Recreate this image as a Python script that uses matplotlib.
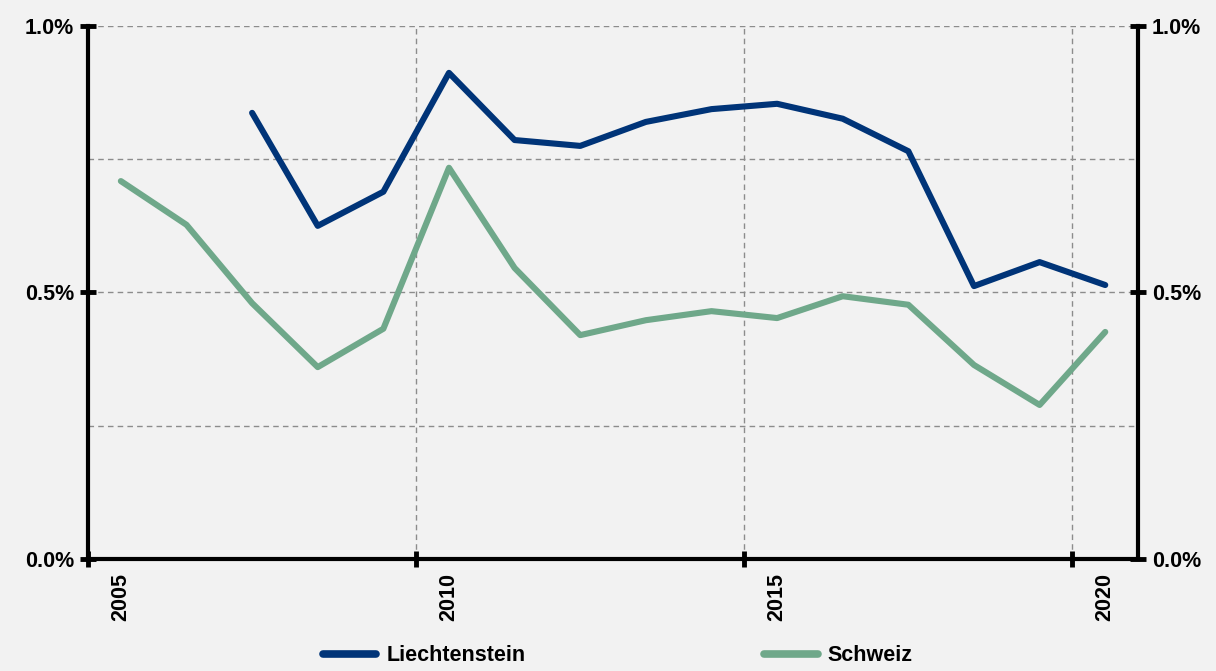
import numpy as np
import matplotlib.pyplot as plt
from matplotlib.ticker import FixedLocator, NullFormatter

years = list(range(2005, 2021))
liechtenstein = [np.nan, np.nan, 0.837, 0.625, 0.689, 0.912, 0.786, 0.775,
                 0.820, 0.844, 0.854, 0.826, 0.765, 0.512, 0.557, 0.514]
schweiz = [0.709, 0.627, 0.480, 0.360, 0.432, 0.734, 0.546, 0.420,
           0.448, 0.465, 0.452, 0.493, 0.477, 0.364, 0.289, 0.426]
year_labels = ["2005", "2010", "2015", "2020"]

bg = "#f2f2f2"
plt.rcParams["font.family"] = ["Liberation Sans", "DejaVu Sans"]
plt.rcParams["font.weight"] = "bold"
fs = 15.5

fig = plt.figure(figsize=(12.16, 6.71), dpi=100, facecolor=bg)
ax = fig.add_axes([0.0724, 0.1669, 0.8635, 0.7944], facecolor=bg)

x = np.arange(len(years))
ax.plot(x, liechtenstein, color="#003478", lw=4.4, solid_capstyle="round",
        solid_joinstyle="round", label="Liechtenstein", zorder=3)
ax.plot(x, schweiz, color="#6fa88a", lw=4.4, solid_capstyle="round",
        solid_joinstyle="round", label="Schweiz", zorder=3)

ax.set_xlim(-0.5, len(years) - 0.5)
ax.set_ylim(0, 1.0)

# category boundaries every 5 years carry ticks and gridlines
ax.xaxis.set_major_locator(FixedLocator([-0.5, 4.5, 9.5, 14.5]))
ax.xaxis.set_major_formatter(NullFormatter())
label_pos = [years.index(int(y)) for y in year_labels]
ax.xaxis.set_minor_locator(FixedLocator(label_pos))
ax.set_xticklabels(year_labels, minor=True, rotation=90, fontsize=fs,
                   fontweight="bold")
ax.tick_params(axis="x", which="minor", length=0, pad=10)
ax.tick_params(axis="x", which="major", direction="inout", length=12, width=3.5)

ax.yaxis.set_major_locator(FixedLocator([0, 0.5, 1.0]))
ax.yaxis.set_minor_locator(FixedLocator([0.25, 0.75]))
ax.set_yticklabels(["0.0%", "0.5%", "1.0%"], fontsize=fs, fontweight="bold")
ax.tick_params(axis="y", which="major", direction="inout", length=12, width=3.5,
               left=True, right=True, labelleft=True, labelright=True, pad=4)
ax.tick_params(axis="y", which="minor", length=0)

grid_style = dict(color="#8c8c8c", ls=(0, (4, 3)), lw=1)
ax.grid(True, axis="x", which="major", **grid_style)
ax.grid(True, axis="y", which="both", **grid_style)
ax.set_axisbelow(True)

for s in ["left", "right", "bottom"]:
    ax.spines[s].set_linewidth(3)
    ax.spines[s].set_color("black")
ax.spines["top"].set_visible(False)

leg = fig.legend(loc="center", bbox_to_anchor=(0.508, 0.023), ncol=2,
                 frameon=False, handlelength=2.5, handletextpad=0.45,
                 columnspacing=11.1, prop={"size": fs, "weight": "bold"})
for h in leg.get_lines():
    h.set_linewidth(5.5)

fig.savefig("out.png", dpi=100, facecolor=bg)
